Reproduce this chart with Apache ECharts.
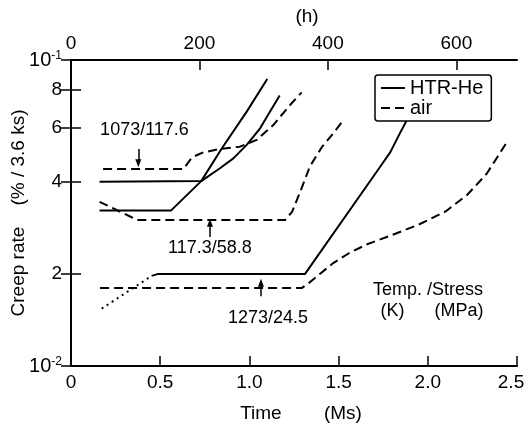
<!DOCTYPE html>
<html><head><meta charset="utf-8">
<script src="https://cdn.jsdelivr.net/npm/echarts@6/dist/echarts.min.js"></script>
<style>html,body{margin:0;padding:0;background:#fff}#c{width:526px;height:428px}</style>
</head><body><div id="c"></div>
<script>
const FONT = 'Liberation Sans';

// x: time (Ms), y: creep rate (%/3.6ks)
const he1073X = [0.16, 0.73, 0.835, 0.91, 0.985, 1.06, 1.115, 1.17];
const he1073Y = [0.0400, 0.0402, 0.0443, 0.0477, 0.0528, 0.0598, 0.0678, 0.0765];

const he1173X = [0.16, 0.56, 0.73, 0.845, 0.985, 1.10];
const he1173Y = [0.0322, 0.0322, 0.0402, 0.0514, 0.0678, 0.0867];

const he1273DotX = [0.172, 0.452];
const he1273DotY = [0.0154, 0.0197];
const he1273X = [0.452, 0.489, 1.312, 1.732, 1.790, 1.844, 1.883, 1.917];
const he1273Y = [0.0197, 0.0200, 0.0200, 0.0447, 0.0500, 0.0577, 0.0637, 0.0702];

const air1073X = [0.18, 0.63, 0.667, 0.686, 0.742, 0.835, 0.947, 1.041, 1.134, 1.228, 1.293];
const air1073Y = [0.0440, 0.0440, 0.0471, 0.0483, 0.0499, 0.0512, 0.0521, 0.0548, 0.0613, 0.0713, 0.0784];

const air1173X = [0.16, 0.235, 0.331, 0.368, 1.20, 1.239, 1.284, 1.340, 1.407, 1.463, 1.519];
const air1173Y = [0.0344, 0.0328, 0.0308, 0.0300, 0.0300, 0.0319, 0.0370, 0.0450, 0.0520, 0.0569, 0.0627];

const air1273X = [0.163, 1.295, 1.33, 1.40, 1.47, 1.56, 1.66, 1.80, 1.95, 2.10, 2.22, 2.33, 2.44];
const air1273Y = [0.0180, 0.0180, 0.0186, 0.0201, 0.0217, 0.0234, 0.0250, 0.0268, 0.0290, 0.0320, 0.0362, 0.0425, 0.0535];

// annotations
const annotText = ['1073/117.6', '117.3/58.8', '1273/24.5', 'Temp. /Stress', '(K)      (MPa)'];
const annotX = [0.412, 0.779, 1.104, 2.001, 2.024];
const annotY = [0.0590, 0.0243, 0.01435, 0.0177, 0.0151];

// arrows: shaft from -> to, head at "to"
const arrowX = [0.377, 0.779, 1.065];
const arrowFromY = [0.0512, 0.0264, 0.01690];
const arrowToY = [0.0460, 0.0294, 0.01870];
const arrowDir = ['down', 'up', 'up'];

// axes
const xTickLabels = ['0', '0.5', '1.0', '1.5', '2.0', '{r|2.5}'];
const topTickLabels = ['0', '200', '400', '600'];
const yTickValues = [0.01, 0.02, 0.04, 0.06, 0.08, 0.1];
const yTickLabels = ['{b|10}{s|-2}', '2', '4', '6', '8', '{b|10}{s|-1}'];
const MS_TO_H = 1e6 / 3600;

const zip = (xs, ys) => xs.map((x, i) => [x, ys[i]]);

const chart = echarts.init(document.getElementById('c'));

const lineSeries = (name, xs, ys, type) => ({
  name: name, type: 'line', xAxisIndex: 0, yAxisIndex: 0,
  data: zip(xs, ys), symbol: 'none', smooth: false, silent: true,
  itemStyle: {color: 'rgba(0,0,0,0)'},
  lineStyle: {color: '#000', width: 2, type: type, join: 'round'},
  z: 3
});

const axisLine = {show: true, lineStyle: {color: '#000', width: 2}};
const tick = {show: true, inside: true, length: 10, lineStyle: {color: '#000', width: 1.5}};
const lbl = {color: '#000', fontSize: 19, fontFamily: FONT};

const option = {
  backgroundColor: '#fff',
  animation: false,
  grid: {left: 71, right: 9, top: 60, bottom: 62, containLabel: false, outerBoundsMode: 'none'},
  xAxis: [
    {
      type: 'value', position: 'bottom', min: 0, max: 2.5, interval: 0.5,
      name: 'Time        (Ms)', nameLocation: 'middle', nameGap: 38, nameMoveOverlap: false,
      nameTextStyle: Object.assign({padding: [0, 0, 0, 14]}, lbl),
      axisLine: axisLine, axisTick: tick, splitLine: {show: false},
      axisLabel: Object.assign({margin: 7, formatter: v => xTickLabels[Math.round(v / 0.5)],
        rich: {r: {fontSize: 19, fontFamily: FONT, color: '#000', padding: [0, 12, 0, 0]}}}, lbl)
    },
    {
      type: 'value', position: 'top', min: 0, max: 2.5 * MS_TO_H, interval: 200,
      name: '(h)', nameLocation: 'middle', nameGap: 34, nameMoveOverlap: false,
      nameTextStyle: Object.assign({padding: [0, 0, 0, 26]}, lbl),
      axisLine: axisLine, axisTick: tick, splitLine: {show: false},
      axisLabel: Object.assign({margin: 7, showMaxLabel: false,
        formatter: v => topTickLabels[Math.round(v / 200)] || ''}, lbl)
    }
  ],
  yAxis: [
    {
      type: 'log', logBase: 10, min: 0.01, max: 0.1, position: 'left',
      name: 'Creep rate    (% / 3.6 ks)', nameLocation: 'middle', nameGap: 43, nameMoveOverlap: false,
      nameTextStyle: lbl,
      axisLine: axisLine, splitLine: {show: false},
      axisTick: Object.assign({customValues: yTickValues}, tick),
      axisLabel: Object.assign({
        customValues: yTickValues, margin: 9,
        formatter: v => {
          let best = 0;
          yTickValues.forEach((t, i) => { if (Math.abs(Math.log10(t) - Math.log10(v)) < Math.abs(Math.log10(yTickValues[best]) - Math.log10(v))) best = i; });
          return yTickLabels[best];
        },
        rich: {
          b: {fontSize: 20, fontFamily: FONT, color: '#000', verticalAlign: 'bottom'},
          s: {fontSize: 12, fontFamily: FONT, color: '#000', verticalAlign: 'top'}
        }
      }, lbl)
    },
    {
      type: 'log', logBase: 10, min: 0.01, max: 0.1, position: 'right',
      axisLine: axisLine, splitLine: {show: false},
      axisTick: Object.assign({customValues: yTickValues}, tick),
      axisLabel: {show: false}
    }
  ],
  legend: {
    data: ['HTR-He', 'air'], orient: 'vertical', left: 375, top: 75,
    padding: [3, 8, 3, 5], itemGap: 0, itemWidth: 24, itemHeight: 14,
    backgroundColor: '#fff', borderColor: '#000', borderWidth: 1.5, borderRadius: 3,
    textStyle: {fontSize: 20, fontFamily: FONT, color: '#000'},
    selectedMode: false, z: 10
  },
  series: [
    lineSeries('HTR-He', he1073X, he1073Y, 'solid'),
    lineSeries('HTR-He', he1173X, he1173Y, 'solid'),
    lineSeries('HTR-He', he1273X, he1273Y, 'solid'),
    lineSeries('HTR-He (early)', he1273DotX, he1273DotY, [2, 4]),
    lineSeries('air', air1073X, air1073Y, [9, 5]),
    lineSeries('air', air1173X, air1173Y, [9, 5]),
    lineSeries('air', air1273X, air1273Y, [9, 5]),
    {
      name: 'annot', type: 'scatter', xAxisIndex: 0, yAxisIndex: 0, silent: true,
      symbolSize: 0, z: 5,
      itemStyle: {opacity: 1, color: '#000'},
      emphasis: {disabled: true},
      data: annotX.map((x, i) => ({value: [x, annotY[i]], label: {formatter: annotText[i]}})),
      label: {show: true, position: 'inside', fontSize: 18, fontFamily: FONT, color: '#000',
        textBorderWidth: 0, opacity: 1},
      markLine: {
        silent: true, symbol: 'none',
        label: {show: false},
        emphasis: {disabled: true},
        lineStyle: {type: 'solid', color: '#000', width: 1.5, opacity: 1},
        data: arrowX.map((x, i) => [{coord: [x, arrowFromY[i]]}, {coord: [x, arrowToY[i]]}])
      },
      markPoint: {
        silent: true,
        symbol: 'triangle', symbolSize: [6, 8],
        label: {show: false},
        itemStyle: {color: '#000', opacity: 1},
        emphasis: {disabled: true},
        data: arrowX.map((x, i) => ({coord: [x, arrowToY[i]], symbolRotate: arrowDir[i] === 'down' ? 180 : 0}))
      }
    }
  ]
};
chart.setOption(option);
</script></body></html>
